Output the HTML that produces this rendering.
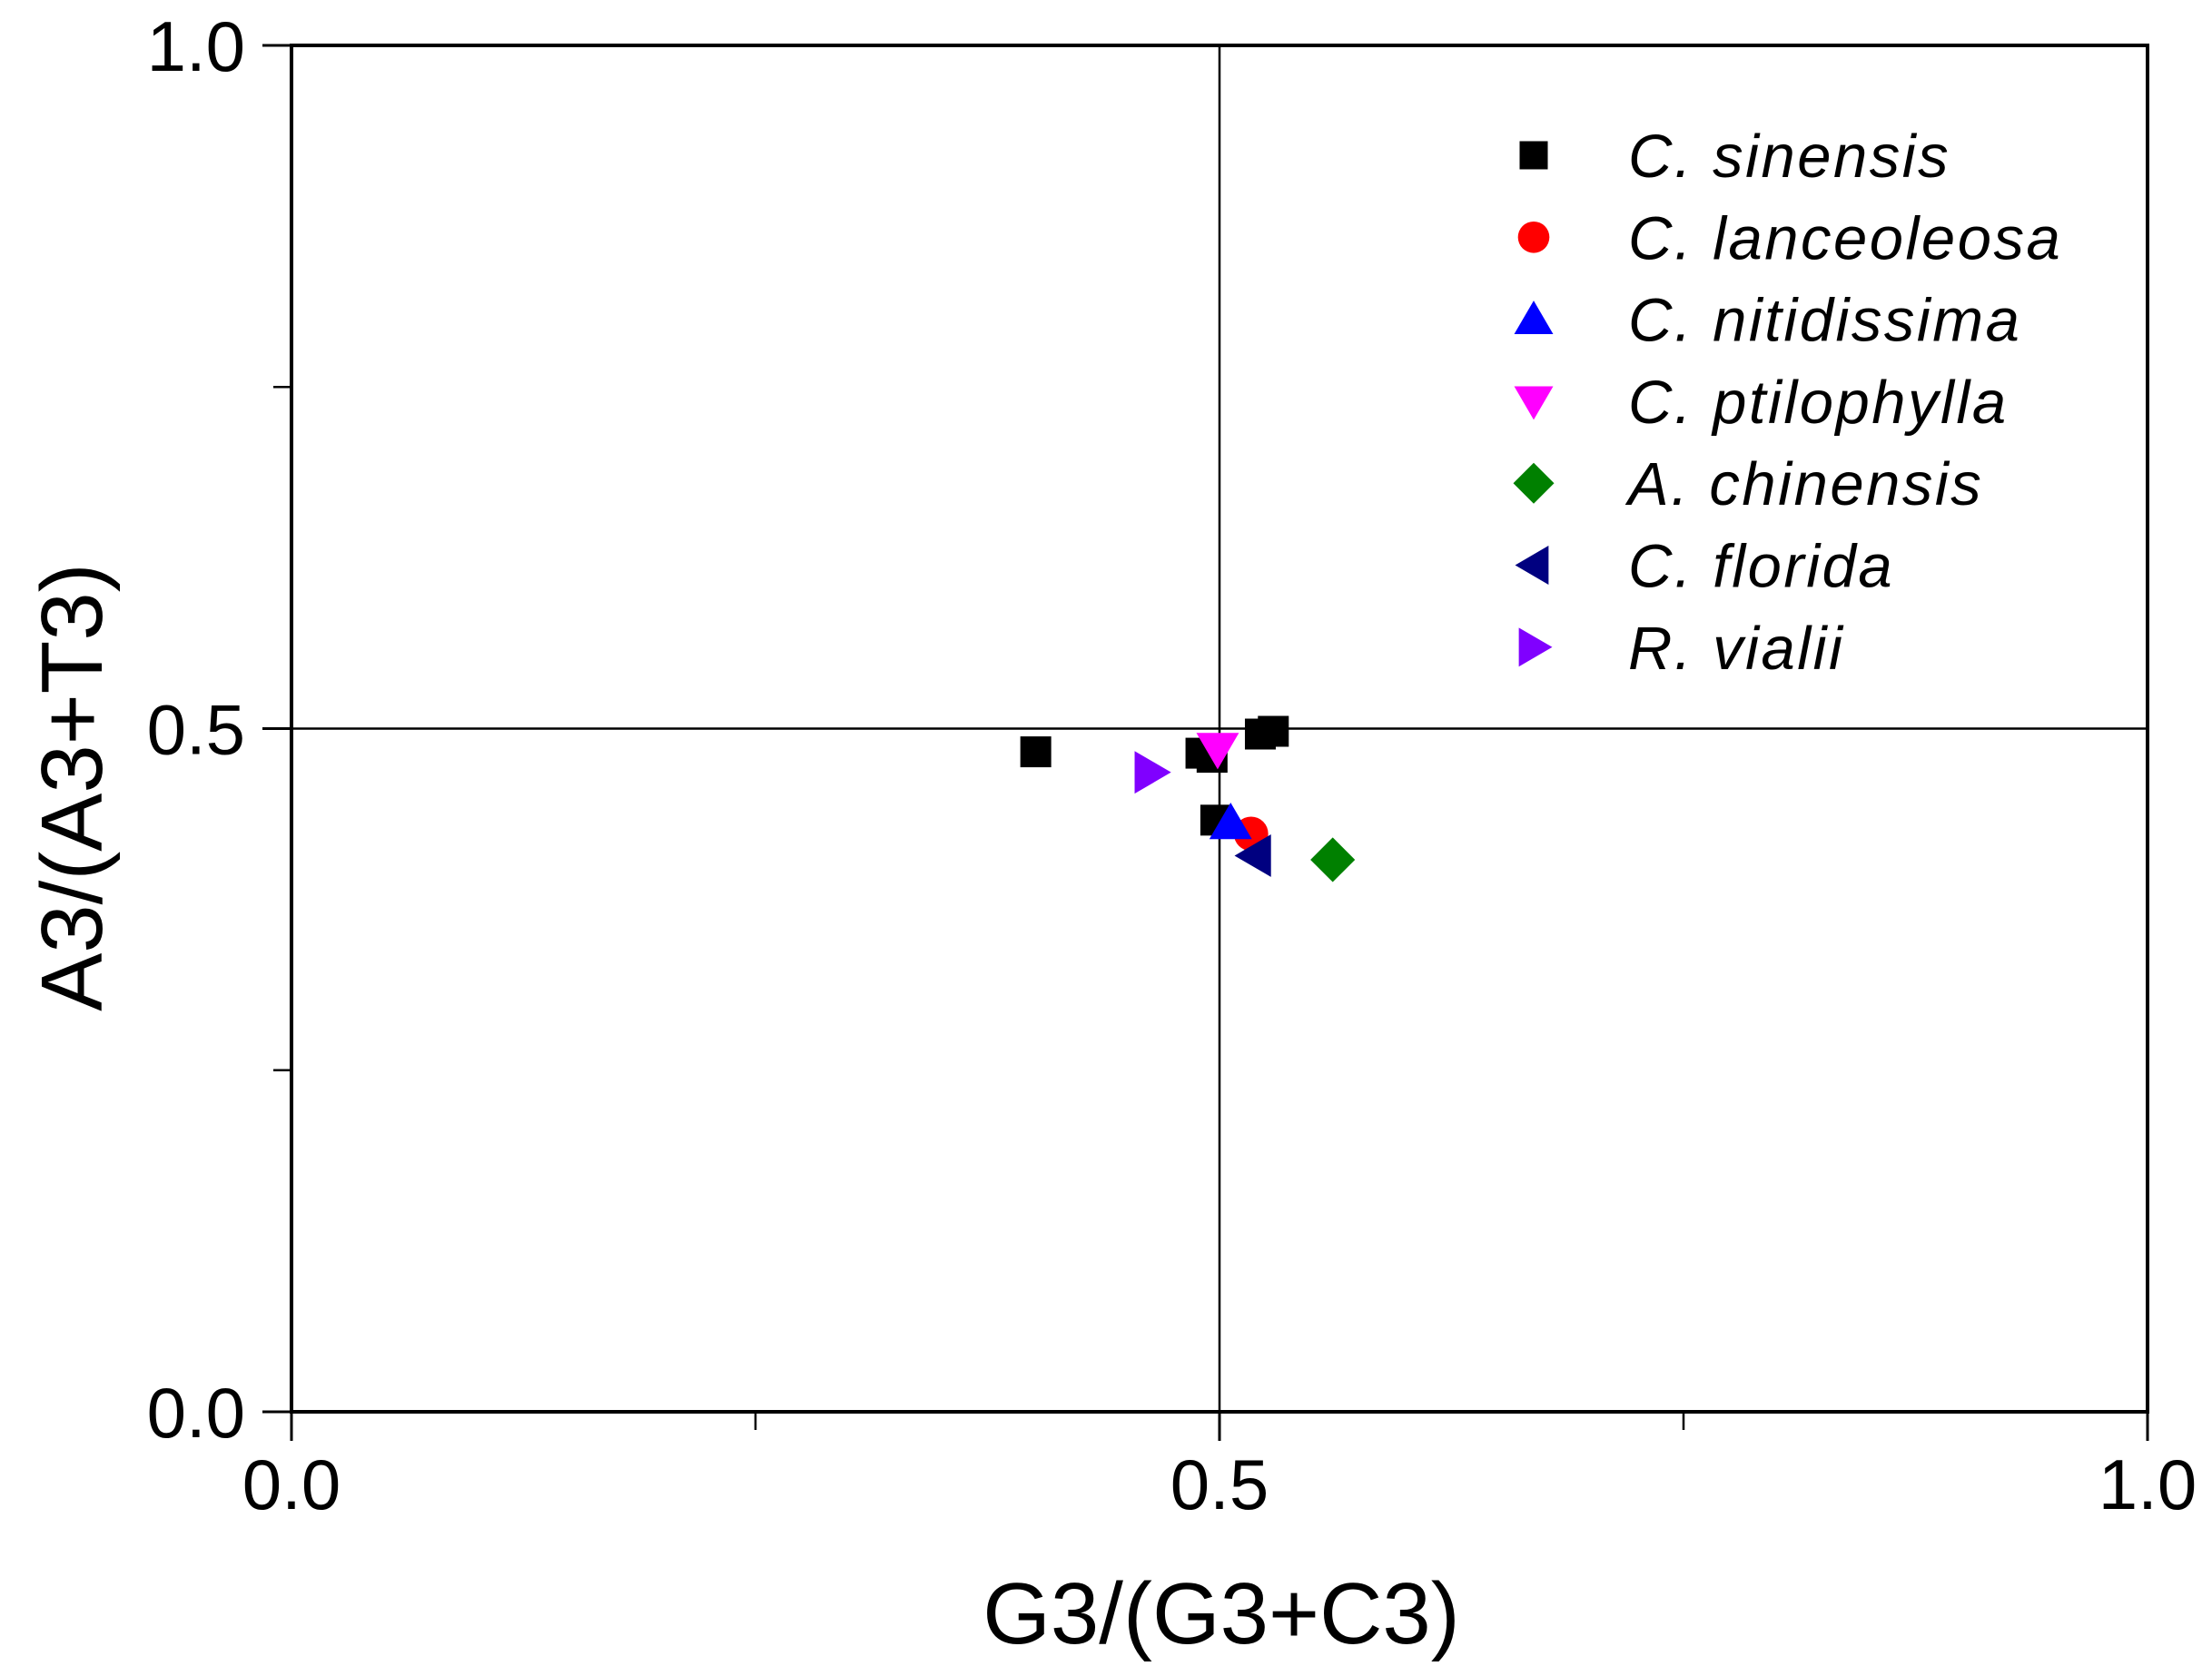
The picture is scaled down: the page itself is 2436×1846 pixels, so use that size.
<!DOCTYPE html>
<html><head><meta charset="utf-8"><style>
html,body{margin:0;padding:0;background:#fff;}
svg{display:block;font-family:"Liberation Sans",Arial,sans-serif;}
</style></head><body>
<svg id="chart" width="2436" height="1846" viewBox="0 0 2436 1846" xmlns="http://www.w3.org/2000/svg">
<g id="grid"></g><g id="axes"></g><g id="marks"></g><g id="legend"></g>
</svg>
<script>
const seriesNames = ["C. sinensis","C. lanceoleosa","C. nitidissima","C. ptilophylla","A. chinensis","C. florida","R. vialii"];
const seriesColors = ["#000000","#ff0000","#0000ff","#ff00ff","#008000","#000080","#8000ff"];
const seriesShapes = ["square","circle","up","down","diamond","left","right"];
const xSinensis = [0.401,0.490,0.496,0.522,0.529,0.498];
const ySinensis = [0.483,0.482,0.479,0.496,0.498,0.433];
const xOthers = [0.517,0.506,0.499,0.561,0.519,0.463];
const yOthers = [0.423,0.431,0.485,0.404,0.407,0.468];
const tickValues = [0, 0.5, 1];
const tickLabels = ["0.0","0.5","1.0"];
const minorTicks = [0.25, 0.75];

const X0=321,X1=2365,Y0=1555,Y1=50;
const sx=v=>X0+(X1-X0)*v;
const sy=v=>Y0-(Y0-Y1)*v;
const NS="http://www.w3.org/2000/svg";
function mk(tag,attrs,parent){const e=document.createElementNS(NS,tag);for(const k in attrs)e.setAttribute(k,attrs[k]);parent.appendChild(e);return e;}
const grid=document.getElementById('grid'),axes=document.getElementById('axes'),marks=document.getElementById('marks'),legend=document.getElementById('legend');

let l=mk('line',{x1:sx(0.5),x2:sx(0.5),y1:Y1,y2:Y0,stroke:'#000','stroke-width':2.5},grid);


l=mk('line',{x1:X0,x2:X1,y1:sy(0.5),y2:sy(0.5),stroke:'#000','stroke-width':2.5},grid);



let f=mk('rect',{x:X0,y:Y1,width:X1-X0,height:Y0-Y1,fill:'none',stroke:'#000','stroke-width':4},axes);



tickValues.forEach((v,i)=>{
  let t=mk('line',{x1:sx(v),x2:sx(v),y1:Y0,y2:Y0+32,stroke:'#000','stroke-width':3},axes);
  
  
  let tx=mk('text',{x:sx(v),y:1662,'font-size':78,'text-anchor':'middle'},axes);
  tx.textContent=tickLabels[i];
  
  
  let ty=mk('line',{x1:X0-32,x2:X0,y1:sy(v),y2:sy(v),stroke:'#000','stroke-width':3},axes);
  
  
  let tl=mk('text',{x:270,y:sy(v)+28,'font-size':78,'text-anchor':'end'},axes);
  tl.textContent=tickLabels[i];
  
  
});
minorTicks.forEach(v=>{
  let t=mk('line',{x1:sx(v),x2:sx(v),y1:Y0,y2:Y0+20,stroke:'#000','stroke-width':2.5},axes);
  
  
  let ty=mk('line',{x1:X0-20,x2:X0,y1:sy(v),y2:sy(v),stroke:'#000','stroke-width':2.5},axes);
  
  
});
let xt=mk('text',{x:1345,y:1810,'font-size':96,'text-anchor':'middle'},axes);
xt.textContent='G3/(G3+C3)';


let yt=mk('text',{x:0,y:0,'font-size':96,'text-anchor':'middle',transform:'translate(112,867) rotate(-90)'},axes);
yt.textContent='A3/(A3+T3)';



function marker(shape,cx,cy,color,s,parent){
  const h=s/2;
  if(shape==='square')return mk('rect',{x:cx-h,y:cy-h,width:s,height:s,fill:color},parent);
  if(shape==='circle')return mk('circle',{cx:cx,cy:cy,r:h*1.05,fill:color},parent);
  let pts;
  const t=s*0.62;
  if(shape==='up')pts=[[cx,cy-t],[cx+t*1.05,cy+t*0.8],[cx-t*1.05,cy+t*0.8]];
  if(shape==='down')pts=[[cx,cy+t],[cx+t*1.05,cy-t*0.8],[cx-t*1.05,cy-t*0.8]];
  if(shape==='left')pts=[[cx-t,cy],[cx+t*0.8,cy-t*1.05],[cx+t*0.8,cy+t*1.05]];
  if(shape==='right')pts=[[cx+t,cy],[cx-t*0.8,cy-t*1.05],[cx-t*0.8,cy+t*1.05]];
  if(shape==='diamond')pts=[[cx,cy-t*1.1],[cx+t*1.1,cy],[cx,cy+t*1.1],[cx-t*1.1,cy]];
  return mk('polygon',{points:pts.map(p=>p.join(',')).join(' '),fill:color},parent);
}
xSinensis.forEach((v,i)=>{
  const m=marker('square',sx(v),sy(ySinensis[i]),seriesColors[0],34,marks);
  
  
});
xOthers.forEach((v,i)=>{
  const k=i+1;
  const m=marker(seriesShapes[k],sx(v),sy(yOthers[i]),seriesColors[k],36,marks);
  
  
});
seriesNames.forEach((n,i)=>{
  const cy=171+i*90.3;
  const m=marker(seriesShapes[i],1689,cy,seriesColors[i],i===0?31:33,legend);
  
  
  const t=mk('text',{x:1793,y:cy+24,'font-size':67,'font-style':'italic','letter-spacing':2.5},legend);
  t.textContent=n;
  
  
});
</script>
</body></html>
